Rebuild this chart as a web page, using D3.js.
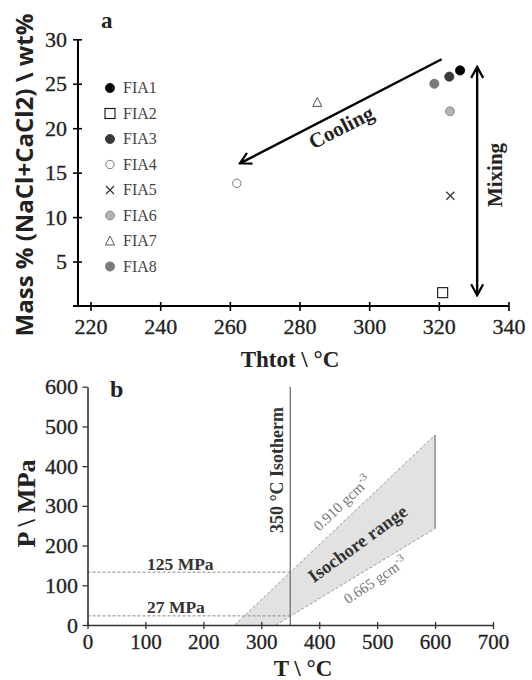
<!DOCTYPE html>
<html>
<head>
<meta charset="utf-8">
<script src="https://cdn.jsdelivr.net/npm/d3@7"></script>
<style>
  body { margin: 0; background: #fff; }
  svg { display: block; }
</style>
</head>
<body>
<script>
// ---- data: panel a (fluid inclusion assemblages) ----
const fiaNames = ["FIA1", "FIA2", "FIA3", "FIA4", "FIA5", "FIA6", "FIA7", "FIA8"]
const fiaTh = [326.1, 321.1, 323.0, 262.0, 323.3, 323.2, 285.1, 318.7]
const fiaSalinity = [26.5, 1.5, 25.8, 13.8, 12.4, 21.9, 22.9, 25.0]
const xTicksA = [220, 240, 260, 280, 300, 320, 340]
const yTicksA = [5, 10, 15, 20, 25, 30]
const coolingArrow = [[320.8, 27.75], [262.9, 16.05]]
const mixingArrow = [[331, 26.9], [331, 1.2]]

// ---- data: panel b (isochores) ----
const xTicksB = [0, 100, 200, 300, 400, 500, 600, 700]
const yTicksB = [0, 100, 200, 300, 400, 500, 600]
const isochoreHigh = [[254, 0], [600, 478.6]]  // 0.910 gcm-3
const isochoreLow = [[325, 0], [600, 243]]     // 0.665 gcm-3
const isothermT = 350
const pressureLabels = ["125 MPa", "27 MPa"]
const pressureValues = [133, 23]

const serif = "'Liberation Serif', 'Times New Roman', serif"
const sans = "'Open Sans', 'DejaVu Sans', sans-serif"

const svg = d3.select("body").append("svg")
  .attr("width", 532)
  .attr("height", 680)

const defs = svg.append("defs")
defs.append("marker")
  .attr("id", "openArrow")
  .attr("viewBox", "0 0 14 14")
  .attr("refX", 12)
  .attr("refY", 7)
  .attr("markerWidth", 14)
  .attr("markerHeight", 14)
  .attr("markerUnits", "userSpaceOnUse")
  .attr("orient", "auto-start-reverse")
  .append("path")
  .attr("d", "M1,1 L12,7 L1,13")
  .attr("fill", "none")
  .attr("stroke", "#000")
  .attr("stroke-width", 2.2)

function styleTicks(ax, size) {
  ax.selectAll(".tick text")
    .attr("font-family", serif)
    .attr("font-size", size)
    .attr("fill", "#222")
    .attr("stroke", "#222")
    .attr("stroke-width", 0.3)
}

// ================= panel a =================
const xA = d3.scaleLinear().domain([216.4, 340]).range([78, 508.5])
const yA = d3.scaleLinear().domain([0, 30]).range([306, 39.3])
const gA = svg.append("g")

// axes
const axA_x = gA.append("g")
  .attr("transform", `translate(0,${yA(0)})`)
  .call(d3.axisBottom(xA).tickValues(xTicksA).tickSize(5).tickSizeOuter(0).tickPadding(7))
axA_x.select(".domain").attr("d", `M${xA(216.4) - 5},0H${xA(340)}`)
const axA_y = gA.append("g")
  .attr("transform", `translate(${xA(216.4)},0)`)
  .call(d3.axisLeft(yA).tickValues(yTicksA).tickSize(5).tickSizeOuter(0).tickPadding(6))
axA_y.select(".domain").attr("d", `M0,${yA(0)}V${yA(30)}`)
;[axA_x, axA_y].forEach(ax => {
  ax.select(".domain").attr("stroke", "#000").attr("stroke-width", 2)
  ax.selectAll(".tick line").attr("stroke", "#000").attr("stroke-width", 1.6)
  styleTicks(ax, "22px")
})
axA_x.selectAll(".tick line").attr("y1", -4)
axA_y.selectAll(".tick line").attr("x1", 4)

// markers
function drawMarker(g, idx, cx, cy) {
  if (idx === 0 || idx === 2 || idx === 7) {
    const fill = ["#000", null, "#3a3a3a", null, null, null, null, "#7a7a7a"][idx]
    g.append("circle").attr("cx", cx).attr("cy", cy).attr("r", 4.6)
      .attr("fill", fill).attr("stroke", fill).attr("stroke-width", 0.8)
  } else if (idx === 1) {
    g.append("rect").attr("x", cx - 5).attr("y", cy - 5).attr("width", 10).attr("height", 10)
      .attr("fill", "#fff").attr("stroke", "#111").attr("stroke-width", 1.1)
  } else if (idx === 3) {
    g.append("circle").attr("cx", cx).attr("cy", cy).attr("r", 4.2)
      .attr("fill", "#fff").attr("stroke", "#777").attr("stroke-width", 1)
  } else if (idx === 4) {
    g.append("path")
      .attr("d", `M${cx - 4},${cy - 4}L${cx + 4},${cy + 4}M${cx - 4},${cy + 4}L${cx + 4},${cy - 4}`)
      .attr("stroke", "#333").attr("stroke-width", 1.2)
  } else if (idx === 5) {
    g.append("circle").attr("cx", cx).attr("cy", cy).attr("r", 4.4)
      .attr("fill", "#b4b4b4").attr("stroke", "#888").attr("stroke-width", 1)
  } else if (idx === 6) {
    g.append("path")
      .attr("d", `M${cx},${cy - 5}L${cx + 4.5},${cy + 4}L${cx - 4.5},${cy + 4}Z`)
      .attr("fill", "#fff").attr("stroke", "#555").attr("stroke-width", 1)
  }
}

for (let idx = 0; idx < fiaNames.length; idx++) {
  drawMarker(gA, idx, xA(fiaTh[idx]), yA(fiaSalinity[idx]))
}

// legend
for (let idx = 0; idx < fiaNames.length; idx++) {
  const ly = 88 + idx * 25.5
  drawMarker(gA, idx, 110, ly)
  gA.append("text")
    .attr("x", 123)
    .attr("y", ly + 5)
    .attr("font-family", serif)
    .attr("font-size", "16px")
    .attr("fill", "#444")
    .text(fiaNames[idx])
}

// arrows
gA.append("line")
  .attr("x1", xA(coolingArrow[0][0])).attr("y1", yA(coolingArrow[0][1]))
  .attr("x2", xA(coolingArrow[1][0])).attr("y2", yA(coolingArrow[1][1]))
  .attr("stroke", "#000").attr("stroke-width", 2.4)
  .attr("marker-end", "url(#openArrow)")
gA.append("line")
  .attr("x1", xA(mixingArrow[0][0])).attr("y1", yA(mixingArrow[0][1]))
  .attr("x2", xA(mixingArrow[1][0])).attr("y2", yA(mixingArrow[1][1]))
  .attr("stroke", "#000").attr("stroke-width", 2.4)
  .attr("marker-start", "url(#openArrow)")
  .attr("marker-end", "url(#openArrow)")

gA.append("text")
  .attr("transform", "translate(341,127) rotate(-27)")
  .attr("dy", "0.35em")
  .attr("text-anchor", "middle")
  .attr("font-family", serif)
  .attr("font-weight", "bold")
  .attr("font-size", "21px")
  .attr("fill", "#222")
  .text("Cooling")
gA.append("text")
  .attr("transform", "translate(502,175) rotate(-90)")
  .attr("text-anchor", "middle")
  .attr("font-family", serif)
  .attr("font-weight", "bold")
  .attr("font-size", "21px")
  .attr("fill", "#222")
  .text("Mixing")

// titles
gA.append("text")
  .attr("x", 101).attr("y", 28)
  .attr("font-family", serif).attr("font-weight", "bold").attr("font-size", "23px")
  .attr("fill", "#222")
  .text("a")
gA.append("text")
  .attr("transform", "translate(33,175) rotate(-90)")
  .attr("text-anchor", "middle")
  .attr("font-family", sans).attr("font-weight", "bold").attr("font-size", "24px")
  .attr("fill", "#222")
  .text("Mass % (NaCl+CaCl2) \\ wt%")
gA.append("text")
  .attr("x", 290).attr("y", 367)
  .attr("text-anchor", "middle")
  .attr("font-family", serif).attr("font-weight", "bold").attr("font-size", "23px")
  .attr("fill", "#222")
  .text("Thtot \\ °C")

// ================= panel b =================
const xB = d3.scaleLinear().domain([0, 700]).range([87.5, 493])
const yB = d3.scaleLinear().domain([0, 600]).range([625, 386.7])
const gB = svg.append("g")

// shaded isochore range
const shade = [isochoreHigh[0], isochoreHigh[1], isochoreLow[1], isochoreLow[0]]
gB.append("path")
  .attr("d", d3.line().x(d => xB(d[0])).y(d => yB(d[1]))(shade) + "Z")
  .attr("fill", "#e2e2e2")
  .attr("stroke", "none")

// isochores
;[isochoreHigh, isochoreLow].forEach(iso => {
  gB.append("line")
    .attr("x1", xB(iso[0][0])).attr("y1", yB(iso[0][1]))
    .attr("x2", xB(iso[1][0])).attr("y2", yB(iso[1][1]))
    .attr("stroke", "#9a9a9a").attr("stroke-width", 1)
    .attr("stroke-dasharray", "3,2")
})
gB.append("line")
  .attr("x1", xB(isochoreHigh[1][0])).attr("y1", yB(isochoreHigh[1][1]))
  .attr("x2", xB(isochoreLow[1][0])).attr("y2", yB(isochoreLow[1][1]))
  .attr("stroke", "#777").attr("stroke-width", 1.2)

// pressure lines
for (let idx = 0; idx < pressureValues.length; idx++) {
  gB.append("line")
    .attr("x1", xB(0)).attr("y1", yB(pressureValues[idx]))
    .attr("x2", xB(isothermT)).attr("y2", yB(pressureValues[idx]))
    .attr("stroke", "#888").attr("stroke-width", 1)
    .attr("stroke-dasharray", "3,2")
  gB.append("text")
    .attr("x", 147).attr("y", yB(pressureValues[idx]) - 2.5)
    .attr("font-family", serif).attr("font-weight", "bold").attr("font-size", "17.5px")
    .attr("fill", "#333")
    .text(pressureLabels[idx])
}

// isotherm
gB.append("line")
  .attr("x1", xB(isothermT)).attr("y1", yB(600))
  .attr("x2", xB(isothermT)).attr("y2", yB(0))
  .attr("stroke", "#666").attr("stroke-width", 1.2)

// axes
const axB_x = gB.append("g")
  .attr("transform", `translate(0,${yB(0)})`)
  .call(d3.axisBottom(xB).tickValues(xTicksB).tickSize(4).tickSizeOuter(0).tickPadding(5))
const axB_y = gB.append("g")
  .attr("transform", `translate(${xB(0)},0)`)
  .call(d3.axisLeft(yB).tickValues(yTicksB).tickSize(5).tickSizeOuter(0).tickPadding(4.5))
;[axB_x, axB_y].forEach(ax => {
  ax.select(".domain").attr("stroke", "#333").attr("stroke-width", 1.6)
  ax.selectAll(".tick line").attr("stroke", "#333").attr("stroke-width", 1.3)
  styleTicks(ax, "22px")
})
axB_x.selectAll(".tick text").attr("font-size", "21px")
axB_x.selectAll(".tick line").attr("y1", -3)

// labels
gB.append("text")
  .attr("transform", "translate(283,470) rotate(-90)")
  .attr("text-anchor", "middle")
  .attr("font-family", serif).attr("font-weight", "bold").attr("font-size", "18px")
  .attr("fill", "#333")
  .text("350 °C Isotherm")

const high = gB.append("text")
  .attr("transform", "translate(342,503) rotate(-43.5)")
  .attr("dy", "0.35em")
  .attr("text-anchor", "middle")
  .attr("font-family", serif).attr("font-size", "15px")
  .attr("fill", "#777")
high.append("tspan").text("0.910 gcm")
high.append("tspan").attr("dy", -6).attr("font-size", "11px").text("-3")

gB.append("text")
  .attr("transform", "translate(357.5,543.5) rotate(-36)")
  .attr("dy", "0.35em")
  .attr("text-anchor", "middle")
  .attr("font-family", serif).attr("font-weight", "bold").attr("font-size", "18.5px")
  .attr("fill", "#333")
  .text("Isochore range")

const low = gB.append("text")
  .attr("transform", "translate(375,580) rotate(-34)")
  .attr("dy", "0.35em")
  .attr("text-anchor", "middle")
  .attr("font-family", serif).attr("font-size", "15px")
  .attr("fill", "#777")
low.append("tspan").text("0.665 gcm")
low.append("tspan").attr("dy", -6).attr("font-size", "11px").text("-3")

gB.append("text")
  .attr("x", 110).attr("y", 397)
  .attr("font-family", serif).attr("font-weight", "bold").attr("font-size", "24px")
  .attr("fill", "#222")
  .text("b")
gB.append("text")
  .attr("transform", "translate(35,503.5) rotate(-90)")
  .attr("text-anchor", "middle")
  .attr("font-family", serif).attr("font-weight", "bold").attr("font-size", "26px")
  .attr("fill", "#222")
  .text("P \\ MPa")
gB.append("text")
  .attr("x", 303).attr("y", 676)
  .attr("text-anchor", "middle")
  .attr("font-family", serif).attr("font-weight", "bold").attr("font-size", "23px")
  .attr("fill", "#222")
  .text("T \\ °C")
</script>
</body>
</html>
